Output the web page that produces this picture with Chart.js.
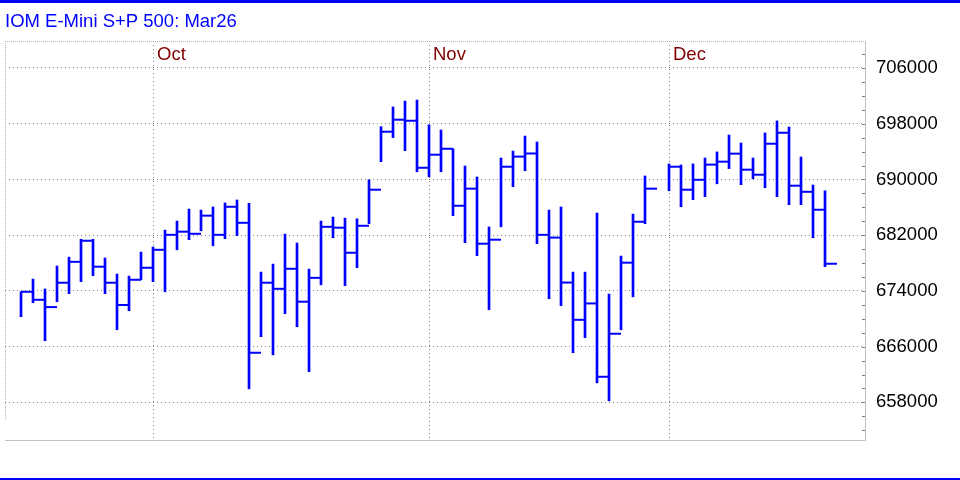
<!DOCTYPE html>
<html>
<head>
<meta charset="utf-8">
<script src="https://cdn.jsdelivr.net/npm/chart.js@4"></script>
<style>
html,body{margin:0;padding:0;background:#fff}
canvas{display:block}
</style>
</head>
<body>
<canvas id="chart" width="960" height="480"></canvas>
<script>

/* DATA */

const title = "IOM E-Mini S+P 500: Mar26"

const monthLabels = ["Oct","Nov","Dec"]
const monthStarts = [11,34,54]

const yTicks = [658000,666000,674000,682000,690000,698000,706000]

// daily bars, index 0 = first bar on the left, null = no bar
const high = [
673875,675700,674275,677575,678850,681400,681400,678725,676425,676125,
679575,680300,682725,684025,685750,685600,686050,686625,687050,686575,
676700,677850,682150,680875,677125,684025,684600,684450,684350,689950,
697575,700400,701250,701400,697850,697100,694400,691925,690350,683175,
693075,694075,696225,695375,685600,686050,676700,676700,685175,673550,
679000,685025,690500,null,692225,692075,692225,693075,693950,696375,
695225,693075,696675,698400,697525,693225,689200,688375]

const low = [
670300,672300,666850,672450,673600,675325,676175,673600,668425,671150,
675600,675325,673875,679900,681350,682625,680475,681500,681925,659950,
667425,664825,670725,668850,662400,674875,681625,674750,677325,683650,
692550,696000,694125,691100,690400,691100,684800,680925,679050,671300,
683200,688950,691250,680775,672875,671875,665125,667275,660800,658225,
668425,673150,683650,null,688375,686075,687100,687525,689375,691550,
689250,690100,688800,687525,686375,686375,681625,677475]

const close = [
673875,672725,671675,675175,678175,681200,677475,675175,671975,675600,
677325,679900,682050,682500,682200,684800,682050,686075,683775,665125,
675175,674300,677175,672450,675875,683200,683075,679475,683350,688525,
696850,698575,698425,691675,693550,694400,686225,688675,680775,681350,
691825,693275,693725,682050,681650,675200,669850,672200,661675,667850,
678050,683925,688675,null,691825,688525,689950,692125,692550,693700,
691400,690675,695125,696700,689100,688225,685650,677900]


const FONT = "'Liberation Sans', Arial, sans-serif"
const BLUE = "#0000ff"


/* BUILD DATASETS */

const hlBars = []
const closeTicks = []

for(let i=0;i<high.length;i++){
  if(high[i]==null) continue
  hlBars.push({x:i, y:[low[i],high[i]]})
  // close tick sits to the right of the bar, centred half a step over
  closeTicks.push({x:i+0.5, y:close[i]})
}


/* FRAME, TITLE, MONTH LABELS */

const frame = {
  id:"frame",

  beforeDraw(chart){
    const c = chart.ctx
    c.save()
    c.fillStyle = BLUE
    c.fillRect(0,0,chart.width,3)
    c.fillRect(0,478,chart.width,2)

    c.font = "18.5px " + FONT
    c.textBaseline = "alphabetic"
    c.fillText(title,5,27)
    c.restore()
  },

  afterDraw(chart){
    const c = chart.ctx
    const a = chart.chartArea
    const x = chart.scales.x
    const y = chart.scales.y
    c.save()

    // dotted top + left edge
    c.strokeStyle = "#b4b4b4"
    c.lineWidth = 1
    c.setLineDash([1,1])
    c.beginPath()
    c.moveTo(a.left,a.top+0.5); c.lineTo(a.right,a.top+0.5)
    c.moveTo(a.left+0.5,a.top); c.lineTo(a.left+0.5,a.bottom-19)
    c.stroke()

    // solid bottom edge
    c.setLineDash([])
    c.strokeStyle = "#c0c0c0"
    c.beginPath()
    c.moveTo(a.left,a.bottom+0.5); c.lineTo(a.right+1,a.bottom+0.5)
    c.stroke()

    // small ticks on the right edge
    c.strokeStyle = "#808080"
    c.beginPath()
    for(let v=Math.ceil(y.min/2000)*2000; v<=y.max; v+=2000){
      const py = Math.round(y.getPixelForValue(v))+0.5
      c.moveTo(a.right-3,py); c.lineTo(a.right,py)
    }
    c.stroke()

    // month names
    c.fillStyle = "#800000"
    c.font = "18.5px " + FONT
    c.textBaseline = "alphabetic"
    monthLabels.forEach((m,i)=>{
      c.fillText(m, x.getPixelForValue(monthStarts[i])+4, 60)
    })

    c.restore()
  }
}


/* CHART */

new Chart(document.getElementById("chart"),{

  type:"scatter",

  data:{
    datasets:[
      {
        type:"bar",
        data:hlBars,
        backgroundColor:BLUE,
        borderWidth:0,
        barThickness:2
      },
      {
        type:"scatter",
        data:closeTicks,
        showLine:false,
        pointStyle:"line",
        pointRadius:6,
        pointBorderWidth:2,
        borderColor:BLUE,
        backgroundColor:BLUE
      }
    ]
  },

  options:{
    responsive:false,
    animation:false,
    events:[],

    layout:{autoPadding:false, padding:{left:5,top:41,bottom:40,right:0}},

    plugins:{
      legend:{display:false},
      tooltip:{enabled:false}
    },

    scales:{
      x:{
        type:"linear",
        offset:false,
        min:-4/3,
        max:70+1/3,
        afterBuildTicks(s){ s.ticks = monthStarts.map(v=>({value:v})) },
        afterFit(s){ s.height = 0 },
        grid:{color:"#808080", drawTicks:false, offset:false},
        border:{display:false, dash:[1,3]},
        ticks:{display:false}
      },
      y:{
        type:"linear",
        position:"right",
        min:652600,
        max:709870,
        afterBuildTicks(s){ s.ticks = yTicks.map(v=>({value:v})) },
        afterFit(s){ s.width = 95 },
        grid:{color:"#808080", drawTicks:false},
        border:{color:"#c0c0c0", dash:[1,3]},
        ticks:{
          padding:11,
          color:"#000",
          font:{family:FONT, size:18.5},
          callback:v=>String(v)
        }
      }
    }
  },

  plugins:[frame]

})

</script>
</body>
</html>
